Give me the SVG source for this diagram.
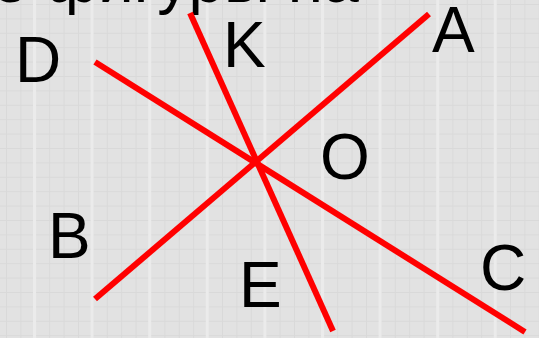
<svg xmlns="http://www.w3.org/2000/svg" width="539" height="338" viewBox="0 0 539 338">
  <defs>
    <pattern id="minor" x="6" y="4" width="14.4" height="14.4" patternUnits="userSpaceOnUse">
      <path d="M0 0.5H14.4M0.5 0V14.4" stroke="#d9d9d9" stroke-width="1" fill="none"/>
    </pattern>
    <pattern id="major" x="33" y="0" width="57.6" height="57.6" patternUnits="userSpaceOnUse">
      <rect x="0" y="0" width="3" height="57.6" fill="#ebebeb"/>
    </pattern>
  </defs>
  <style>
    .ray { stroke: #ff0000; stroke-width: 6; fill: none; stroke-linecap: butt; }
    .lbl { font-family: "Liberation Sans", Arial, sans-serif; font-size: 64px; fill: #000000; }
  </style>
  <rect width="539" height="338" fill="#e2e2e2"/>
  <rect width="539" height="338" fill="url(#minor)"/>
  <rect width="539" height="338" fill="url(#major)"/>

  <text class="lbl" x="-8" y="2">е фигуры на</text>

  <g id="lines">
    <line class="ray" x1="95" y1="62" x2="525" y2="332"/>
    <line class="ray" x1="95" y1="299" x2="429" y2="14"/>
    <line class="ray" x1="190" y1="13" x2="333" y2="331"/>
  </g>

  <g id="label-D"><text class="lbl" x="15" y="82">D</text></g>
  <g id="label-K"><text class="lbl" x="223" y="67">K</text></g>
  <g id="label-A"><text class="lbl" x="432" y="52">A</text></g>
  <g id="label-O"><text class="lbl" x="320" y="179">O</text></g>
  <g id="label-B"><text class="lbl" x="48" y="258">B</text></g>
  <g id="label-E"><text class="lbl" x="239" y="307">E</text></g>
  <g id="label-C"><text class="lbl" x="480" y="290">C</text></g>
</svg>
